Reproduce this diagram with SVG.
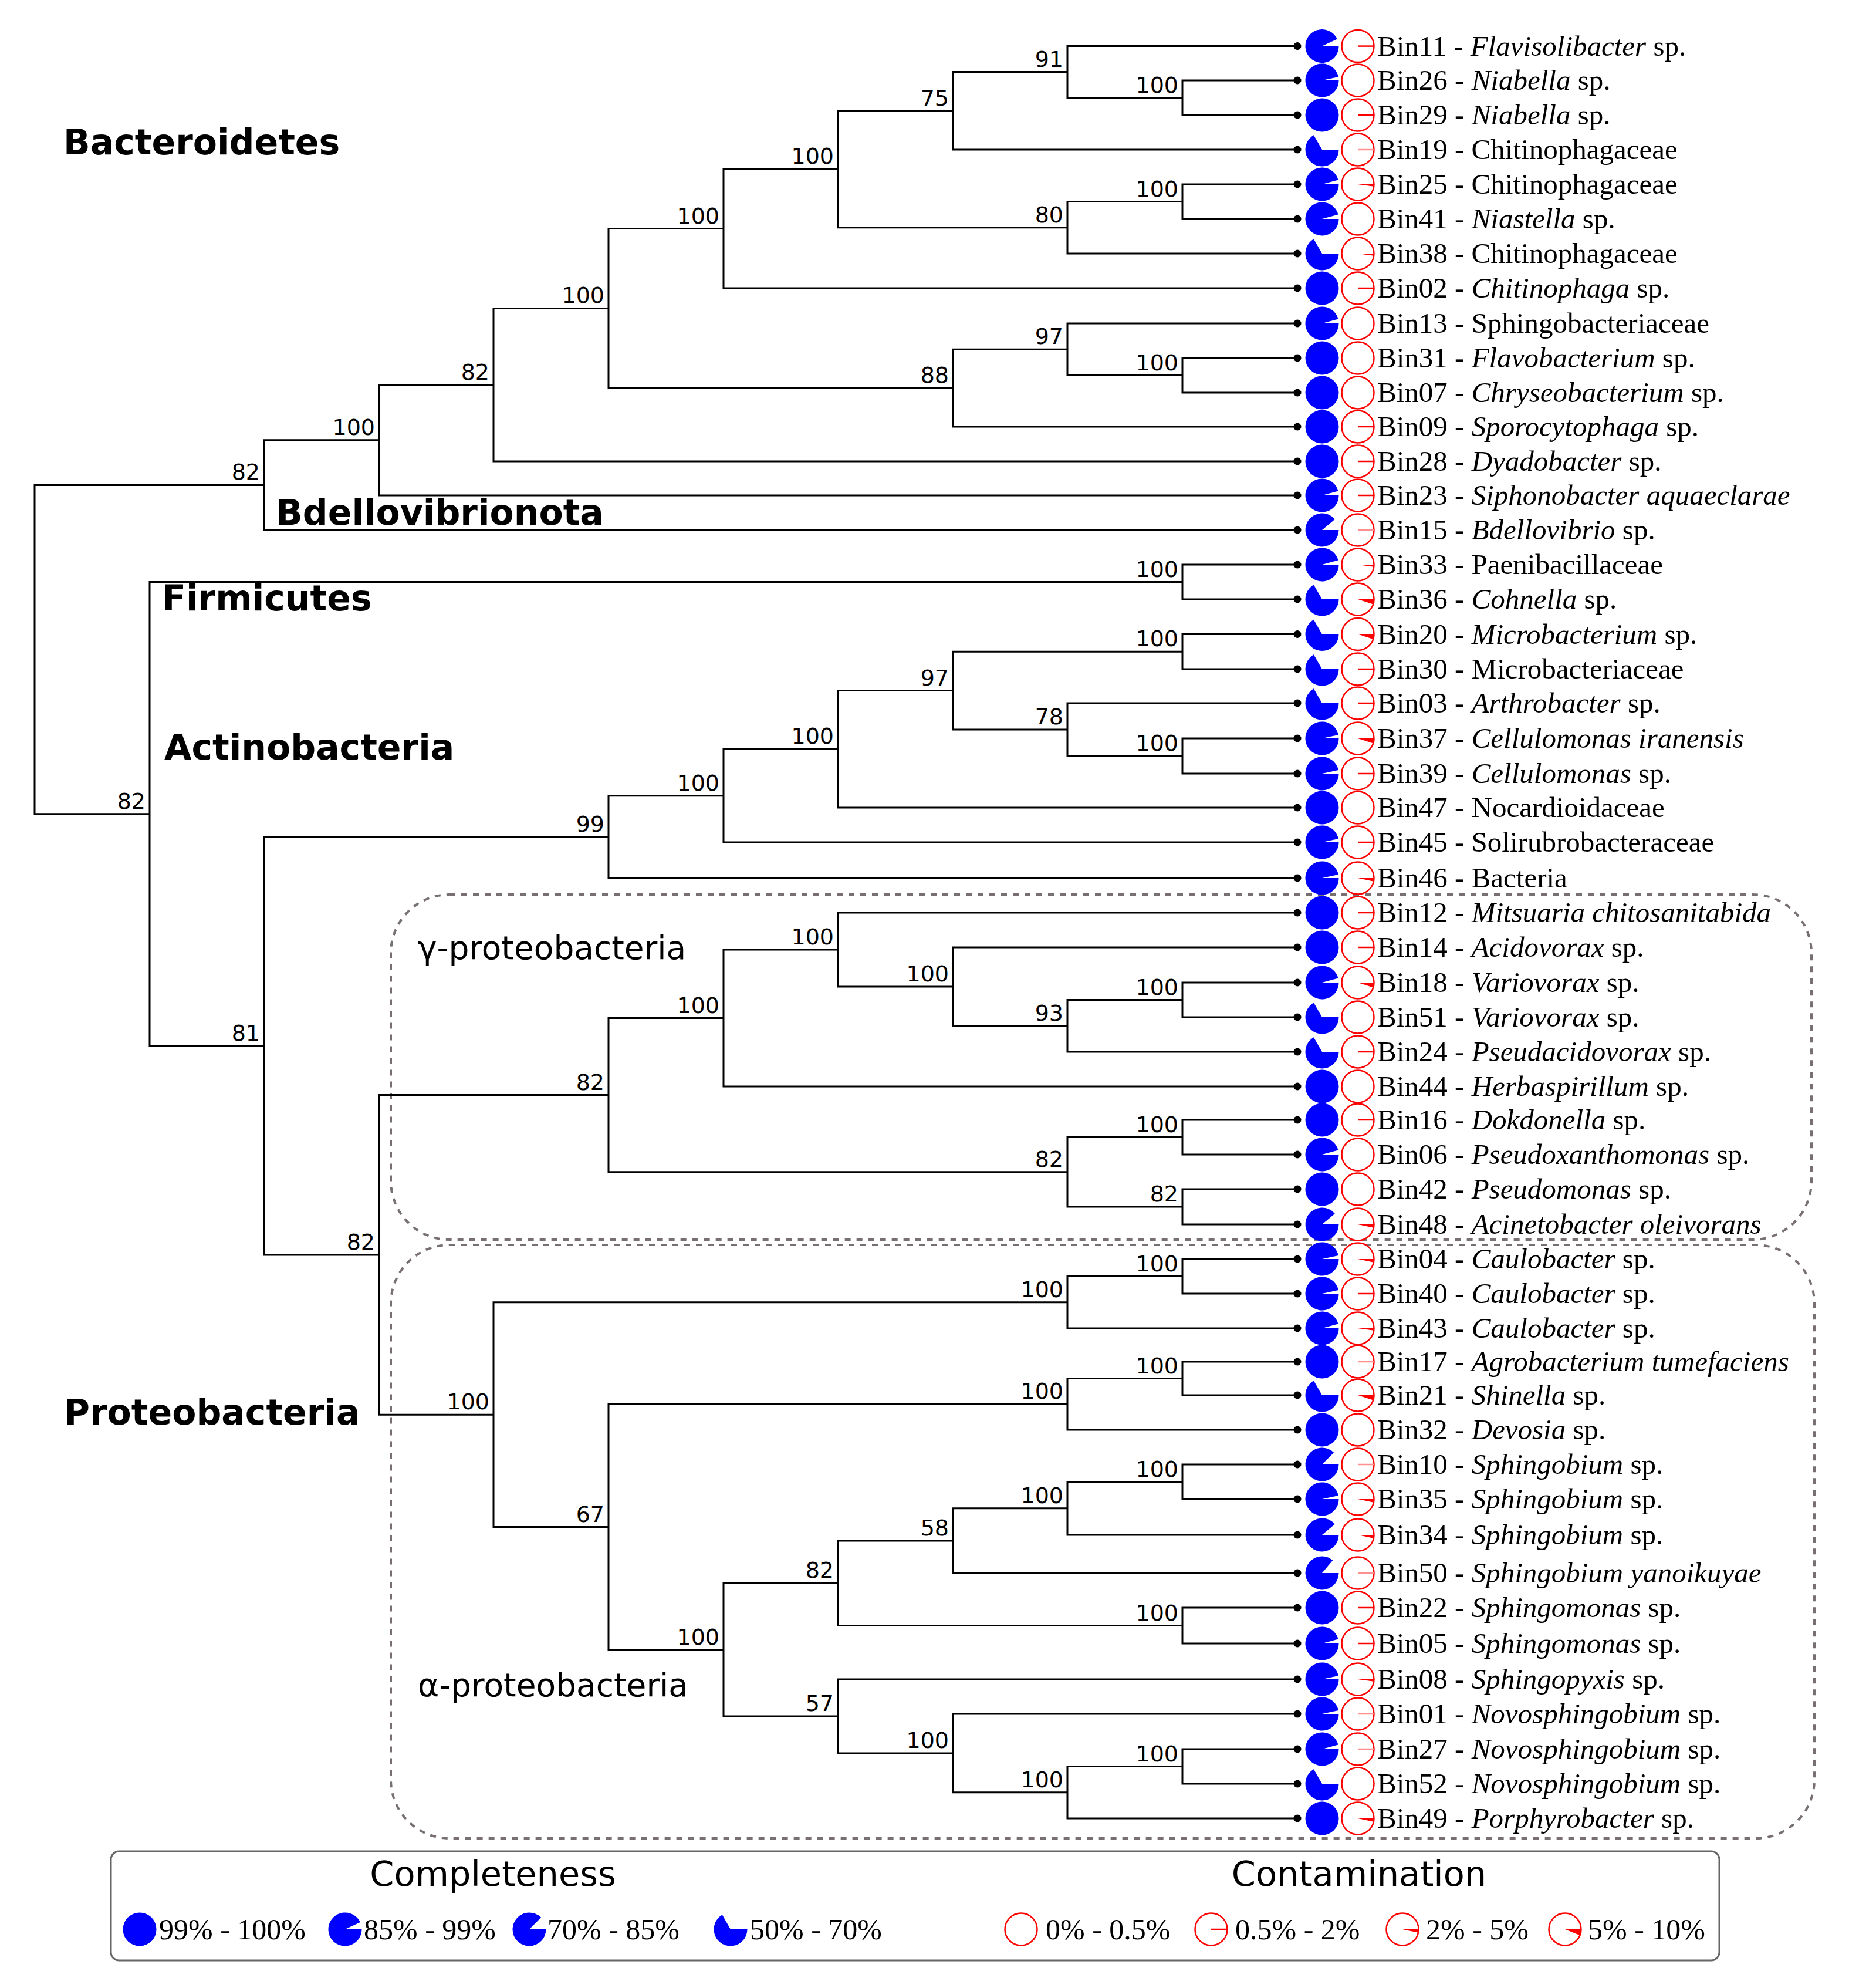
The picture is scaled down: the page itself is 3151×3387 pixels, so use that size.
<svg xmlns="http://www.w3.org/2000/svg" width="3151" height="3387" viewBox="0 0 3151 3387">
<style>
.tree{fill:none;stroke:#000;stroke-width:3;stroke-linecap:square}
.dot{fill:#000}
.lt{font-family:"Liberation Serif","Times New Roman",serif;font-size:49px;fill:#000}
.i{font-style:italic}
.bs{font-family:"DejaVu Sans",sans-serif;font-size:38px;fill:#000;text-anchor:end}
.clade{font-family:"DejaVu Sans",sans-serif;font-weight:bold;font-size:60px;fill:#000}
.sub{font-family:"DejaVu Sans",sans-serif;font-size:55px;fill:#000}
.box{fill:none;stroke:#787070;stroke-width:4;stroke-dasharray:10 10}
.lg{font-family:"DejaVu Sans",sans-serif;font-size:59px;fill:#000;text-anchor:middle}
.lgt{font-family:"Liberation Serif","Times New Roman",serif;font-size:50px;fill:#000}
.blue{fill:#0000ff}
.red{fill:#ff0000}
</style>
<defs>
<circle id="bF" r="28.5" class="blue"/>
<path id="b12" class="blue" d="M0 0L28.5 0A28.5 28.5 0 1 1 27.88 -5.93Z"/>
<path id="b15" class="blue" d="M0 0L28.5 0A28.5 28.5 0 1 1 27.53 -7.38Z"/>
<path id="b25" class="blue" d="M0 0L28.5 0A28.5 28.5 0 1 1 25.83 -12.04Z"/>
<path id="b40" class="blue" d="M0 0L28.5 0A28.5 28.5 0 1 1 21.83 -18.32Z"/>
<path id="b45" class="blue" d="M0 0L28.5 0A28.5 28.5 0 1 1 20.15 -20.15Z"/>
<path id="b50" class="blue" d="M0 0L28.5 0A28.5 28.5 0 1 1 18.32 -21.83Z"/>
<path id="b120" class="blue" d="M0 0L28.5 0A28.5 28.5 0 1 1 -14.25 -24.68Z"/>
<circle id="rc" r="27.5" fill="#fff" stroke="#ff0000" stroke-width="2.5"/>
<g id="r0"><use href="#rc"/></g>
<g id="r1"><use href="#rc"/><path d="M0 0H27.5" stroke="#ff0000" stroke-width="2.5"/></g>
<g id="r1f"><use href="#rc"/><path d="M0 0H27.5" stroke="#ff9090" stroke-width="2.5"/></g>
<g id="rw8"><use href="#rc"/><path class="red" d="M0 0L27.5 0A27.5 27.5 0 0 1 27.23 3.83Z"/></g>
<g id="rw12"><use href="#rc"/><path class="red" d="M0 0L27.5 0A27.5 27.5 0 0 1 26.9 5.72Z"/></g>
<g id="rw18"><use href="#rc"/><path class="red" d="M0 0L27.5 0A27.5 27.5 0 0 1 26.15 8.5Z"/></g>
<g id="rw22"><use href="#rc"/><path class="red" d="M0 0L27.5 0A27.5 27.5 0 0 1 25.5 10.3Z"/></g>
</defs>
<rect width="3151" height="3387" fill="#fff"/>

<g id="clade-boxes">
<rect class="box" x="666" y="1524" width="2421" height="588" rx="100" ry="100"/>
<rect class="box" x="666" y="2121" width="2426" height="1011" rx="100" ry="100"/>
</g>

<g id="connectors">
<path class="tree" d="M59 826.4V1386.7M59 826.4H450M59 1386.7H255
M450 749.8V903M450 749.8H646M450 903H2211
M646 655.7V844M646 655.7H841M646 844H2211
M841 525.4V786M841 525.4H1037M841 786H2211
M1037 389.6V661.1M1037 389.6H1233M1037 661.1H1624
M1233 288.3V491M1233 288.3H1428M1233 491H2211
M1428 188.8V387.8M1428 188.8H1624M1428 387.8H1819
M1624 122.6V255M1624 122.6H1819M1624 255H2211
M1819 78.6V166.5M1819 78.6H2211M1819 166.5H2015
M2015 137V196M2015 137H2211M2015 196H2211
M1819 343.5V432M1819 343.5H2015M1819 432H2211
M2015 314V373M2015 314H2211M2015 373H2211
M1624 595.3V727M1624 595.3H1819M1624 727H2211
M1819 551V639.5M1819 551H2211M1819 639.5H2015
M2015 610V669M2015 610H2211M2015 669H2211
M255 991.5V1781.9M255 991.5H2015M255 1781.9H450
M2015 962V1021M2015 962H2211M2015 1021H2211
M450 1425.8V2137.9M450 1425.8H1037M450 2137.9H646
M1037 1355.7V1496M1037 1355.7H1233M1037 1496H2211
M1233 1276.3V1435M1233 1276.3H1428M1233 1435H2211
M1428 1176.6V1376M1428 1176.6H1624M1428 1376H2211
M1624 1110.3V1243M1624 1110.3H2015M1624 1243H1819
M2015 1080.5V1140M2015 1080.5H2211M2015 1140H2211
M1819 1198V1288M1819 1198H2211M1819 1288H2015
M2015 1258V1318M2015 1258H2211M2015 1318H2211
M646 1865.6V2410.2M646 1865.6H1037M646 2410.2H841
M1037 1734.5V1996.8M1037 1734.5H1233M1037 1996.8H1819
M1233 1618V1851M1233 1618H1428M1233 1851H2211
M1428 1555V1680.9M1428 1555H2211M1428 1680.9H1624
M1624 1614V1747.8M1624 1614H2211M1624 1747.8H1819
M1819 1703.5V1792M1819 1703.5H2015M1819 1792H2211
M2015 1674V1733M2015 1674H2211M2015 1733H2211
M1819 1937.5V2056M1819 1937.5H2015M1819 2056H2015
M2015 1908V1967M2015 1908H2211M2015 1967H2211
M2015 2026V2086M2015 2026H2211M2015 2086H2211
M841 2218.8V2601.5M841 2218.8H1819M841 2601.5H1037
M1819 2174.5V2263M1819 2174.5H2015M1819 2263H2211
M2015 2145V2204M2015 2145H2211M2015 2204H2211
M1037 2392.3V2810.6M1037 2392.3H1819M1037 2810.6H1233
M1819 2348.5V2436M1819 2348.5H2015M1819 2436H2211
M2015 2320V2377M2015 2320H2211M2015 2377H2211
M1233 2697.2V2924M1233 2697.2H1428M1233 2924H1428
M1428 2624.9V2769.5M1428 2624.9H1624M1428 2769.5H2015
M1624 2569.8V2680M1624 2569.8H1819M1624 2680H2211
M1819 2524.5V2615M1819 2524.5H2015M1819 2615H2211
M2015 2495V2554M2015 2495H2211M2015 2554H2211
M2015 2739V2800M2015 2739H2211M2015 2800H2211
M1428 2861V2986.9M1428 2861H2211M1428 2986.9H1624
M1624 2920V3053.8M1624 2920H2211M1624 3053.8H1819
M1819 3009.5V3098M1819 3009.5H2015M1819 3098H2211
M2015 2980V3039M2015 2980H2211M2015 3039H2211"/>
</g>

<g id="support-values" class="bs">
<text x="2008" y="157.5">100</text>
<text x="1812" y="113.6">91</text>
<text x="1617" y="179.8">75</text>
<text x="2008" y="334.5">100</text>
<text x="1812" y="378.8">80</text>
<text x="1421" y="279.3">100</text>
<text x="1226" y="380.6">100</text>
<text x="2008" y="630.5">100</text>
<text x="1812" y="586.3">97</text>
<text x="1617" y="652.1">88</text>
<text x="1030" y="516.4">100</text>
<text x="834" y="646.7">82</text>
<text x="639" y="740.8">100</text>
<text x="443" y="817.4">82</text>
<text x="248" y="1377.7">82</text>
<text x="2008" y="982.5">100</text>
<text x="443" y="1772.9">81</text>
<text x="1030" y="1416.8">99</text>
<text x="1226" y="1346.7">100</text>
<text x="1421" y="1267.3">100</text>
<text x="1617" y="1167.6">97</text>
<text x="2008" y="1101.3">100</text>
<text x="1812" y="1234">78</text>
<text x="2008" y="1279">100</text>
<text x="639" y="2128.9">82</text>
<text x="1030" y="1856.6">82</text>
<text x="1226" y="1725.5">100</text>
<text x="1421" y="1609">100</text>
<text x="1617" y="1671.9">100</text>
<text x="1812" y="1738.8">93</text>
<text x="2008" y="1694.5">100</text>
<text x="1812" y="1987.8">82</text>
<text x="2008" y="1928.5">100</text>
<text x="2008" y="2047">82</text>
<text x="834" y="2401.2">100</text>
<text x="1812" y="2209.8">100</text>
<text x="2008" y="2165.5">100</text>
<text x="1030" y="2592.5">67</text>
<text x="1812" y="2383.3">100</text>
<text x="2008" y="2339.5">100</text>
<text x="1226" y="2801.6">100</text>
<text x="1421" y="2688.2">82</text>
<text x="1617" y="2615.9">58</text>
<text x="1812" y="2560.8">100</text>
<text x="2008" y="2515.5">100</text>
<text x="2008" y="2760.5">100</text>
<text x="1421" y="2915">57</text>
<text x="1617" y="2977.9">100</text>
<text x="1812" y="3044.8">100</text>
<text x="2008" y="3000.5">100</text>
</g>

<g id="clade-labels">
<text class="clade" x="108" y="263">Bacteroidetes</text>
<text class="clade" x="470" y="894">Bdellovibrionota</text>
<text class="clade" x="276" y="1040">Firmicutes</text>
<text class="clade" x="280" y="1294">Actinobacteria</text>
<text class="clade" x="109" y="2427">Proteobacteria</text>
<text class="sub" x="712" y="1634">γ-proteobacteria</text>
<text class="sub" x="712" y="2890">α-proteobacteria</text>
</g>

<g id="Bin11"><circle class="dot" cx="2211" cy="78.6" r="6.5"/><use href="#b25" x="2253" y="78.6"/><use href="#r1" x="2314" y="78.6"/><text class="lt" x="2347" y="94.6">Bin11 - <tspan class="i">Flavisolibacter</tspan> sp.</text></g>
<g id="Bin26"><circle class="dot" cx="2211" cy="137" r="6.5"/><use href="#b12" x="2253" y="137"/><use href="#r0" x="2314" y="137"/><text class="lt" x="2347" y="153">Bin26 - <tspan class="i">Niabella</tspan> sp.</text></g>
<g id="Bin29"><circle class="dot" cx="2211" cy="196" r="6.5"/><use href="#bF" x="2253" y="196"/><use href="#r1" x="2314" y="196"/><text class="lt" x="2347" y="212">Bin29 - <tspan class="i">Niabella</tspan> sp.</text></g>
<g id="Bin19"><circle class="dot" cx="2211" cy="255" r="6.5"/><use href="#b120" x="2253" y="255"/><use href="#r1f" x="2314" y="255"/><text class="lt" x="2347" y="271">Bin19 - Chitinophagaceae</text></g>
<g id="Bin25"><circle class="dot" cx="2211" cy="314" r="6.5"/><use href="#b15" x="2253" y="314"/><use href="#rw8" x="2314" y="314"/><text class="lt" x="2347" y="330">Bin25 - Chitinophagaceae</text></g>
<g id="Bin41"><circle class="dot" cx="2211" cy="373" r="6.5"/><use href="#b15" x="2253" y="373"/><use href="#r0" x="2314" y="373"/><text class="lt" x="2347" y="389">Bin41 - <tspan class="i">Niastella</tspan> sp.</text></g>
<g id="Bin38"><circle class="dot" cx="2211" cy="432" r="6.5"/><use href="#b120" x="2253" y="432"/><use href="#rw8" x="2314" y="432"/><text class="lt" x="2347" y="448">Bin38 - Chitinophagaceae</text></g>
<g id="Bin02"><circle class="dot" cx="2211" cy="491" r="6.5"/><use href="#bF" x="2253" y="491"/><use href="#r1" x="2314" y="491"/><text class="lt" x="2347" y="507">Bin02 - <tspan class="i">Chitinophaga</tspan> sp.</text></g>
<g id="Bin13"><circle class="dot" cx="2211" cy="551" r="6.5"/><use href="#b15" x="2253" y="551"/><use href="#r0" x="2314" y="551"/><text class="lt" x="2347" y="567">Bin13 - Sphingobacteriaceae</text></g>
<g id="Bin31"><circle class="dot" cx="2211" cy="610" r="6.5"/><use href="#bF" x="2253" y="610"/><use href="#r0" x="2314" y="610"/><text class="lt" x="2347" y="626">Bin31 - <tspan class="i">Flavobacterium</tspan> sp.</text></g>
<g id="Bin07"><circle class="dot" cx="2211" cy="669" r="6.5"/><use href="#bF" x="2253" y="669"/><use href="#r0" x="2314" y="669"/><text class="lt" x="2347" y="685">Bin07 - <tspan class="i">Chryseobacterium</tspan> sp.</text></g>
<g id="Bin09"><circle class="dot" cx="2211" cy="727" r="6.5"/><use href="#bF" x="2253" y="727"/><use href="#r1" x="2314" y="727"/><text class="lt" x="2347" y="743">Bin09 - <tspan class="i">Sporocytophaga</tspan> sp.</text></g>
<g id="Bin28"><circle class="dot" cx="2211" cy="786" r="6.5"/><use href="#bF" x="2253" y="786"/><use href="#r1" x="2314" y="786"/><text class="lt" x="2347" y="802">Bin28 - <tspan class="i">Dyadobacter</tspan> sp.</text></g>
<g id="Bin23"><circle class="dot" cx="2211" cy="844" r="6.5"/><use href="#b15" x="2253" y="844"/><use href="#r1" x="2314" y="844"/><text class="lt" x="2347" y="860">Bin23 - <tspan class="i">Siphonobacter aquaeclarae</tspan></text></g>
<g id="Bin15"><circle class="dot" cx="2211" cy="903" r="6.5"/><use href="#b40" x="2253" y="903"/><use href="#r1f" x="2314" y="903"/><text class="lt" x="2347" y="919">Bin15 - <tspan class="i">Bdellovibrio</tspan> sp.</text></g>
<g id="Bin33"><circle class="dot" cx="2211" cy="962" r="6.5"/><use href="#b15" x="2253" y="962"/><use href="#rw8" x="2314" y="962"/><text class="lt" x="2347" y="978">Bin33 - Paenibacillaceae</text></g>
<g id="Bin36"><circle class="dot" cx="2211" cy="1021" r="6.5"/><use href="#b120" x="2253" y="1021"/><use href="#rw18" x="2314" y="1021"/><text class="lt" x="2347" y="1037">Bin36 - <tspan class="i">Cohnella</tspan> sp.</text></g>
<g id="Bin20"><circle class="dot" cx="2211" cy="1080.5" r="6.5"/><use href="#b120" x="2253" y="1080.5"/><use href="#rw18" x="2314" y="1080.5"/><text class="lt" x="2347" y="1096.5">Bin20 - <tspan class="i">Microbacterium</tspan> sp.</text></g>
<g id="Bin30"><circle class="dot" cx="2211" cy="1140" r="6.5"/><use href="#b120" x="2253" y="1140"/><use href="#r1" x="2314" y="1140"/><text class="lt" x="2347" y="1156">Bin30 - Microbacteriaceae</text></g>
<g id="Bin03"><circle class="dot" cx="2211" cy="1198" r="6.5"/><use href="#b120" x="2253" y="1198"/><use href="#r1" x="2314" y="1198"/><text class="lt" x="2347" y="1214">Bin03 - <tspan class="i">Arthrobacter</tspan> sp.</text></g>
<g id="Bin37"><circle class="dot" cx="2211" cy="1258" r="6.5"/><use href="#b12" x="2253" y="1258"/><use href="#rw18" x="2314" y="1258"/><text class="lt" x="2347" y="1274">Bin37 - <tspan class="i">Cellulomonas iranensis</tspan></text></g>
<g id="Bin39"><circle class="dot" cx="2211" cy="1318" r="6.5"/><use href="#b12" x="2253" y="1318"/><use href="#r1" x="2314" y="1318"/><text class="lt" x="2347" y="1334">Bin39 - <tspan class="i">Cellulomonas</tspan> sp.</text></g>
<g id="Bin47"><circle class="dot" cx="2211" cy="1376" r="6.5"/><use href="#bF" x="2253" y="1376"/><use href="#r0" x="2314" y="1376"/><text class="lt" x="2347" y="1392">Bin47 - Nocardioidaceae</text></g>
<g id="Bin45"><circle class="dot" cx="2211" cy="1435" r="6.5"/><use href="#b12" x="2253" y="1435"/><use href="#r1" x="2314" y="1435"/><text class="lt" x="2347" y="1451">Bin45 - Solirubrobacteraceae</text></g>
<g id="Bin46"><circle class="dot" cx="2211" cy="1496" r="6.5"/><use href="#b12" x="2253" y="1496"/><use href="#rw12" x="2314" y="1496"/><text class="lt" x="2347" y="1512">Bin46 - Bacteria</text></g>
<g id="Bin12"><circle class="dot" cx="2211" cy="1555" r="6.5"/><use href="#bF" x="2253" y="1555"/><use href="#r1" x="2314" y="1555"/><text class="lt" x="2347" y="1571">Bin12 - <tspan class="i">Mitsuaria chitosanitabida</tspan></text></g>
<g id="Bin14"><circle class="dot" cx="2211" cy="1614" r="6.5"/><use href="#bF" x="2253" y="1614"/><use href="#r1" x="2314" y="1614"/><text class="lt" x="2347" y="1630">Bin14 - <tspan class="i">Acidovorax</tspan> sp.</text></g>
<g id="Bin18"><circle class="dot" cx="2211" cy="1674" r="6.5"/><use href="#b15" x="2253" y="1674"/><use href="#rw18" x="2314" y="1674"/><text class="lt" x="2347" y="1690">Bin18 - <tspan class="i">Variovorax</tspan> sp.</text></g>
<g id="Bin51"><circle class="dot" cx="2211" cy="1733" r="6.5"/><use href="#b120" x="2253" y="1733"/><use href="#r0" x="2314" y="1733"/><text class="lt" x="2347" y="1749">Bin51 - <tspan class="i">Variovorax</tspan> sp.</text></g>
<g id="Bin24"><circle class="dot" cx="2211" cy="1792" r="6.5"/><use href="#b120" x="2253" y="1792"/><use href="#r1" x="2314" y="1792"/><text class="lt" x="2347" y="1808">Bin24 - <tspan class="i">Pseudacidovorax</tspan> sp.</text></g>
<g id="Bin44"><circle class="dot" cx="2211" cy="1851" r="6.5"/><use href="#bF" x="2253" y="1851"/><use href="#r0" x="2314" y="1851"/><text class="lt" x="2347" y="1867">Bin44 - <tspan class="i">Herbaspirillum</tspan> sp.</text></g>
<g id="Bin16"><circle class="dot" cx="2211" cy="1908" r="6.5"/><use href="#bF" x="2253" y="1908"/><use href="#r1" x="2314" y="1908"/><text class="lt" x="2347" y="1924">Bin16 - <tspan class="i">Dokdonella</tspan> sp.</text></g>
<g id="Bin06"><circle class="dot" cx="2211" cy="1967" r="6.5"/><use href="#b15" x="2253" y="1967"/><use href="#r0" x="2314" y="1967"/><text class="lt" x="2347" y="1983">Bin06 - <tspan class="i">Pseudoxanthomonas</tspan> sp.</text></g>
<g id="Bin42"><circle class="dot" cx="2211" cy="2026" r="6.5"/><use href="#bF" x="2253" y="2026"/><use href="#r0" x="2314" y="2026"/><text class="lt" x="2347" y="2042">Bin42 - <tspan class="i">Pseudomonas</tspan> sp.</text></g>
<g id="Bin48"><circle class="dot" cx="2211" cy="2086" r="6.5"/><use href="#b40" x="2253" y="2086"/><use href="#rw12" x="2314" y="2086"/><text class="lt" x="2347" y="2102">Bin48 - <tspan class="i">Acinetobacter oleivorans</tspan></text></g>
<g id="Bin04"><circle class="dot" cx="2211" cy="2145" r="6.5"/><use href="#b12" x="2253" y="2145"/><use href="#rw12" x="2314" y="2145"/><text class="lt" x="2347" y="2161">Bin04 - <tspan class="i">Caulobacter</tspan> sp.</text></g>
<g id="Bin40"><circle class="dot" cx="2211" cy="2204" r="6.5"/><use href="#b12" x="2253" y="2204"/><use href="#r1" x="2314" y="2204"/><text class="lt" x="2347" y="2220">Bin40 - <tspan class="i">Caulobacter</tspan> sp.</text></g>
<g id="Bin43"><circle class="dot" cx="2211" cy="2263" r="6.5"/><use href="#b15" x="2253" y="2263"/><use href="#rw8" x="2314" y="2263"/><text class="lt" x="2347" y="2279">Bin43 - <tspan class="i">Caulobacter</tspan> sp.</text></g>
<g id="Bin17"><circle class="dot" cx="2211" cy="2320" r="6.5"/><use href="#bF" x="2253" y="2320"/><use href="#r1f" x="2314" y="2320"/><text class="lt" x="2347" y="2336">Bin17 - <tspan class="i">Agrobacterium tumefaciens</tspan></text></g>
<g id="Bin21"><circle class="dot" cx="2211" cy="2377" r="6.5"/><use href="#b120" x="2253" y="2377"/><use href="#rw18" x="2314" y="2377"/><text class="lt" x="2347" y="2393">Bin21 - <tspan class="i">Shinella</tspan> sp.</text></g>
<g id="Bin32"><circle class="dot" cx="2211" cy="2436" r="6.5"/><use href="#bF" x="2253" y="2436"/><use href="#r0" x="2314" y="2436"/><text class="lt" x="2347" y="2452">Bin32 - <tspan class="i">Devosia</tspan> sp.</text></g>
<g id="Bin10"><circle class="dot" cx="2211" cy="2495" r="6.5"/><use href="#b45" x="2253" y="2495"/><use href="#r1f" x="2314" y="2495"/><text class="lt" x="2347" y="2511">Bin10 - <tspan class="i">Sphingobium</tspan> sp.</text></g>
<g id="Bin35"><circle class="dot" cx="2211" cy="2554" r="6.5"/><use href="#b12" x="2253" y="2554"/><use href="#rw12" x="2314" y="2554"/><text class="lt" x="2347" y="2570">Bin35 - <tspan class="i">Sphingobium</tspan> sp.</text></g>
<g id="Bin34"><circle class="dot" cx="2211" cy="2615" r="6.5"/><use href="#b40" x="2253" y="2615"/><use href="#rw12" x="2314" y="2615"/><text class="lt" x="2347" y="2631">Bin34 - <tspan class="i">Sphingobium</tspan> sp.</text></g>
<g id="Bin50"><circle class="dot" cx="2211" cy="2680" r="6.5"/><use href="#b50" x="2253" y="2680"/><use href="#r1f" x="2314" y="2680"/><text class="lt" x="2347" y="2696">Bin50 - <tspan class="i">Sphingobium yanoikuyae</tspan></text></g>
<g id="Bin22"><circle class="dot" cx="2211" cy="2739" r="6.5"/><use href="#bF" x="2253" y="2739"/><use href="#r1" x="2314" y="2739"/><text class="lt" x="2347" y="2755">Bin22 - <tspan class="i">Sphingomonas</tspan> sp.</text></g>
<g id="Bin05"><circle class="dot" cx="2211" cy="2800" r="6.5"/><use href="#b15" x="2253" y="2800"/><use href="#r1" x="2314" y="2800"/><text class="lt" x="2347" y="2816">Bin05 - <tspan class="i">Sphingomonas</tspan> sp.</text></g>
<g id="Bin08"><circle class="dot" cx="2211" cy="2861" r="6.5"/><use href="#b12" x="2253" y="2861"/><use href="#rw8" x="2314" y="2861"/><text class="lt" x="2347" y="2877">Bin08 - <tspan class="i">Sphingopyxis</tspan> sp.</text></g>
<g id="Bin01"><circle class="dot" cx="2211" cy="2920" r="6.5"/><use href="#b12" x="2253" y="2920"/><use href="#r1f" x="2314" y="2920"/><text class="lt" x="2347" y="2936">Bin01 - <tspan class="i">Novosphingobium</tspan> sp.</text></g>
<g id="Bin27"><circle class="dot" cx="2211" cy="2980" r="6.5"/><use href="#b15" x="2253" y="2980"/><use href="#r1f" x="2314" y="2980"/><text class="lt" x="2347" y="2996">Bin27 - <tspan class="i">Novosphingobium</tspan> sp.</text></g>
<g id="Bin52"><circle class="dot" cx="2211" cy="3039" r="6.5"/><use href="#b120" x="2253" y="3039"/><use href="#r0" x="2314" y="3039"/><text class="lt" x="2347" y="3055">Bin52 - <tspan class="i">Novosphingobium</tspan> sp.</text></g>
<g id="Bin49"><circle class="dot" cx="2211" cy="3098" r="6.5"/><use href="#bF" x="2253" y="3098"/><use href="#rw12" x="2314" y="3098"/><text class="lt" x="2347" y="3114">Bin49 - <tspan class="i">Porphyrobacter</tspan> sp.</text></g>

<g id="legend">
<rect x="189" y="3154" width="2741" height="186" rx="14" ry="14" fill="#fff" stroke="#666" stroke-width="3"/>
<text class="lg" x="840" y="3213">Completeness</text>
<text class="lg" x="2316" y="3213">Contamination</text>
<use href="#bF" x="238" y="3287"/><text class="lgt" x="271" y="3304">99% - 100%</text>
<use href="#b25" x="588" y="3287"/><text class="lgt" x="620" y="3304">85% - 99%</text>
<use href="#b45" x="902" y="3287"/><text class="lgt" x="933" y="3304">70% - 85%</text>
<use href="#b120" x="1245" y="3287"/><text class="lgt" x="1278" y="3304">50% - 70%</text>
<use href="#r0" x="1740" y="3287"/><text class="lgt" x="1782" y="3304">0% - 0.5%</text>
<use href="#r1" x="2064" y="3287"/><text class="lgt" x="2105" y="3304">0.5% - 2%</text>
<use href="#rw12" x="2390" y="3287"/><text class="lgt" x="2430" y="3304">2% - 5%</text>
<use href="#rw22" x="2667" y="3287"/><text class="lgt" x="2706" y="3304">5% - 10%</text>
</g>
</svg>
